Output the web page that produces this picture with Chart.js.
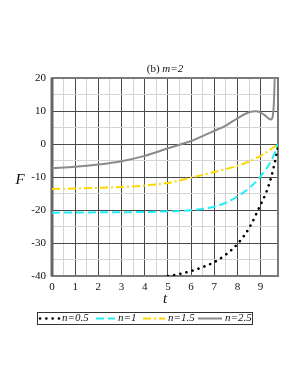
<!DOCTYPE html>
<html>
<head>
<meta charset="utf-8">
<script src="https://cdn.jsdelivr.net/npm/chart.js@4/dist/chart.umd.min.js"></script>
<style>
  html, body { margin: 0; padding: 0; background: #fff; }
  #wrap { width: 300px; height: 388px; }
</style>
</head>
<body>
<div id="wrap"><canvas id="chart" width="300" height="388"></canvas></div>
<script>
// values
const tHalf = [5, 5.5, 6, 6.5, 7, 7.5, 8, 8.5, 9, 9.25, 9.45, 9.6, 9.75];
const fHalf = [-40, -39.4, -38.5, -37.3, -35.8, -33.5, -30.3, -25.5, -18.4, -14.5, -10.2, -6.0, -0.8];

const tOne = [0, 2, 4, 5, 6, 7, 7.5, 8, 8.5, 9, 9.5, 9.75];
const fOne = [-20.8, -20.7, -20.6, -20.4, -20.1, -19.0, -17.8, -15.9, -13.4, -9.8, -4.5, 0];

const tOneHalf = [0, 1, 2, 3, 4, 5, 6, 7, 8, 8.5, 9, 9.5, 9.75];
const fOneHalf = [-13.6, -13.5, -13.3, -13.0, -12.6, -11.8, -10.2, -8.5, -6.6, -5.3, -3.6, -1.3, 0];

const tTwoHalf = [0, 1, 2, 3, 4, 5, 6, 7, 7.5, 8, 8.5, 8.8, 9, 9.2, 9.35, 9.45, 9.52, 9.57, 9.61];
const fTwoHalf = [-7.3, -6.9, -6.2, -5.2, -3.6, -1.3, 0.9, 4.0, 5.6, 7.8, 9.6, 9.9, 9.5, 8.6, 7.7, 7.4, 8.3, 12, 20];

const labels = ['n=0.5', 'n=1', 'n=1.5', 'n=2.5'];
const xTicks = [0, 1, 2, 3, 4, 5, 6, 7, 8, 9];
const yTicks = [-40, -30, -20, -10, 0, 10, 20];

const serif = '"Liberation Serif", "DejaVu Serif", serif';
const pts = (xs, ys) => xs.map((x, i) => ({ x: x, y: ys[i] }));

// frame round the plot, under the curves
const frame = {
    id: 'frame',
    beforeDatasetsDraw(chart) {
        const a = chart.chartArea;
        const ctx = chart.ctx;
        ctx.save();
        ctx.strokeStyle = '#7a7a7a';
        ctx.lineWidth = 2;
        ctx.strokeRect(a.left, a.top, a.right - a.left, a.bottom - a.top);
        ctx.fillStyle = '#666';
        ctx.fillRect(a.left - 1.5, a.top, 3, a.bottom - a.top);
        ctx.restore();
    }
};

// title, axis names and boxed legend drawn by hand
const extras = {
    id: 'extras',
    afterDraw(chart) {
        const ctx = chart.ctx;
        const a = chart.chartArea;
        ctx.save();
        ctx.fillStyle = '#111';
        ctx.textBaseline = 'middle';

        // title: "(b)" upright, "m=2" italic
        const p1 = '(b) ';
        ctx.font = 'italic 11px ' + serif;
        const w2 = ctx.measureText('m=2').width;
        ctx.font = '11px ' + serif;
        const w1 = ctx.measureText(p1).width;
        let tx = (a.left + a.right) / 2 - (w1 + w2) / 2;
        ctx.textAlign = 'left';
        ctx.fillText(p1, tx, 69);
        ctx.font = 'italic 11px ' + serif;
        ctx.fillText('m=2', tx + w1, 69);

        // axis names
        ctx.font = 'italic 15px ' + serif;
        ctx.textAlign = 'center';
        ctx.fillText('F', 20, 180);
        ctx.fillText('t', (a.left + a.right) / 2, 299);

        // legend
        const bx = 37, by = 312, bw = 215, bh = 12;
        ctx.strokeStyle = '#333';
        ctx.lineWidth = 1;
        ctx.strokeRect(bx + 0.5, by + 0.5, bw, bh);
        const items = [
            { x0: 40, x1: 60, tx: 62 },
            { x0: 96, x1: 115, tx: 118 },
            { x0: 143, x1: 165, tx: 168 },
            { x0: 198, x1: 222, tx: 225 }
        ];
        const cy = by + bh / 2 + 0.5;
        chart.data.datasets.forEach((ds, i) => {
            const it = items[i];
            ctx.save();
            ctx.strokeStyle = ds.borderColor;
            ctx.lineWidth = ds.borderWidth;
            ctx.lineCap = ds.borderCapStyle || 'butt';
            ctx.setLineDash(ds.borderDash || []);
            ctx.beginPath();
            ctx.moveTo(it.x0, cy);
            ctx.lineTo(it.x1, cy);
            ctx.stroke();
            ctx.restore();
            ctx.font = 'italic 11px ' + serif;
            ctx.textAlign = 'left';
            ctx.fillStyle = '#111';
            ctx.fillText(ds.label, it.tx, cy);
        });
        ctx.restore();
    }
};

const gridColor = (major) => (c) => {
    if (c.tick === undefined) return 'rgba(0,0,0,0)';
    return major(c.tick.value) ? '#4a4a4a' : '#d4d4d4';
};

new Chart(document.getElementById('chart'), {
    type: 'line',
    data: {
        datasets: [
            {
                label: labels[0],
                data: pts(tHalf, fHalf),
                borderColor: '#000',
                borderWidth: 2.6,
                borderDash: [0.1, 6.2],
                borderCapStyle: 'round',
                pointRadius: 0,
                cubicInterpolationMode: 'monotone'
            },
            {
                label: labels[1],
                data: pts(tOne, fOne),
                borderColor: '#22eef5',
                borderWidth: 2,
                borderDash: [8, 4],
                pointRadius: 0,
                cubicInterpolationMode: 'monotone'
            },
            {
                label: labels[2],
                data: pts(tOneHalf, fOneHalf),
                borderColor: '#ffd700',
                borderWidth: 2,
                borderDash: [8, 3, 2, 3],
                pointRadius: 0,
                cubicInterpolationMode: 'monotone'
            },
            {
                label: labels[3],
                data: pts(tTwoHalf, fTwoHalf),
                borderColor: '#8a8a8a',
                borderWidth: 2,
                pointRadius: 0,
                cubicInterpolationMode: 'monotone'
            }
        ]
    },
    options: {
        responsive: false,
        animation: false,
        layout: { padding: { top: 78, right: 22, left: 0, bottom: 0 } },
        plugins: {
            legend: { display: false },
            title: { display: false },
            tooltip: { enabled: false }
        },
        scales: {
            x: {
                type: 'linear',
                min: 0,
                max: 9.75,
                afterFit: (s) => { s.height = 112; },
                grid: {
                    color: gridColor(v => Math.abs(v - Math.round(v)) < 1e-6 && v <= 9),
                    lineWidth: 1,
                    drawTicks: false
                },
                border: { display: false },
                ticks: {
                    stepSize: 0.5,
                    autoSkip: false,
                    maxRotation: 0,
                    padding: 5,
                    color: '#111',
                    font: { family: serif, size: 11 },
                    callback: (v) => xTicks.includes(v) ? String(v) : ''
                }
            },
            y: {
                type: 'linear',
                min: -40,
                max: 20,
                afterFit: (s) => { s.width = 52; },
                grid: {
                    color: gridColor(v => v % 10 === 0),
                    lineWidth: 1,
                    drawTicks: false
                },
                border: { display: false },
                ticks: {
                    stepSize: 5,
                    autoSkip: false,
                    padding: 6,
                    color: '#111',
                    font: { family: serif, size: 11 },
                    callback: (v) => yTicks.includes(v) ? String(v) : ''
                }
            }
        }
    },
    plugins: [frame, extras]
});
</script>
</body>
</html>
